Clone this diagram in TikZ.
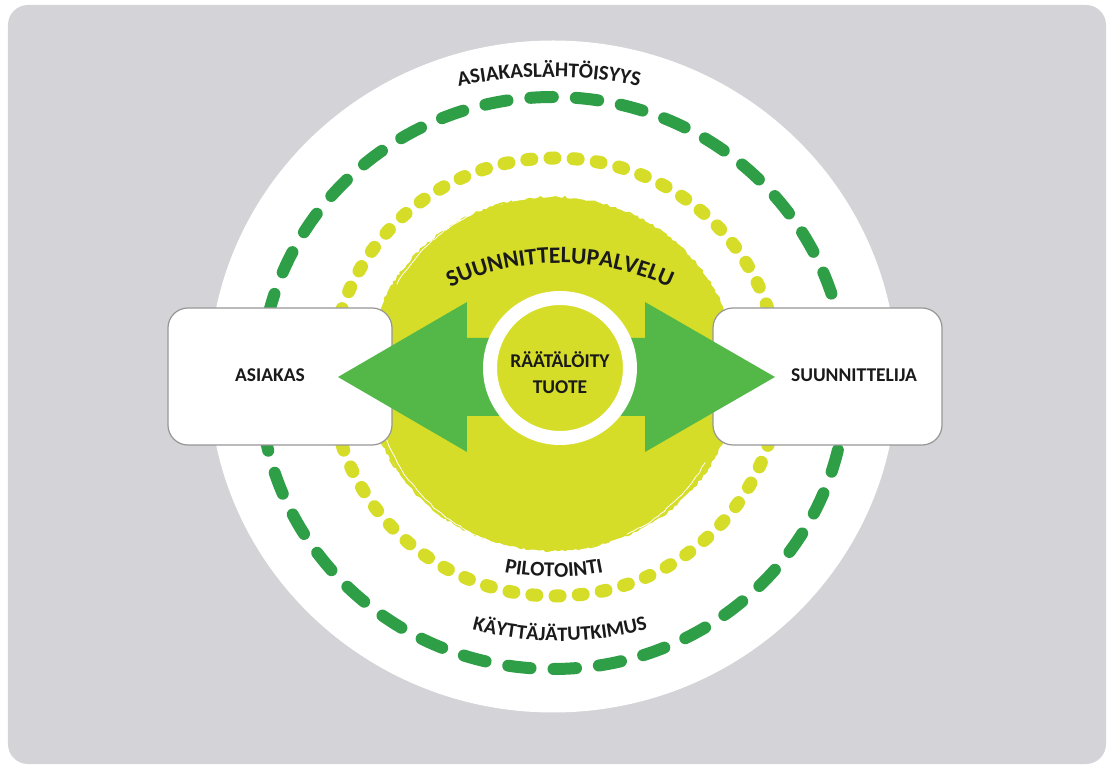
\documentclass[tikz,border=0pt]{standalone}
\usepackage{fontspec}
\setmainfont{Carlito}
\usetikzlibrary{shapes.geometric,decorations.text,decorations.pathmorphing,positioning}

\definecolor{panelgray}{RGB}{211,211,216}
\definecolor{darkgreen}{RGB}{46,158,71}
\definecolor{limegreen}{RGB}{213,221,41}
\definecolor{arrowgreen}{RGB}{84,184,72}
\definecolor{boxline}{RGB}{150,150,150}
\definecolor{ink}{RGB}{26,26,26}

\begin{document}
\begin{tikzpicture}[
	x=1pt, y=1pt,
	text=ink,
	ring/.style={
		ellipse,
		inner sep=0pt
	},
	box/.style={
		rectangle,
		rounded corners=20pt,
		draw=boxline, line width=1.2pt,
		fill=white,
		minimum height=137pt
	},
	lbl/.style={
		font=\bfseries\fontsize{19.5}{25.7}\selectfont,
		align=center
	},
	dashring/.style={
		draw=darkgreen, line width=12pt, line cap=round,
		dash pattern=on 22.5pt off 23pt
	},
	dotring/.style={
		draw=limegreen, line width=13pt, line cap=round,
		dash pattern=on 5pt off 18.2pt
	},
	brush/.style={
		draw=white, line width=0.8pt,
		decorate, decoration={random steps, segment length=4pt, amplitude=0.7pt}
	},
	curved/.style={
		decorate,
		decoration={text along path, text align=center}
	}
	]

	\pgfmathsetseed{11}
	\useasboundingbox (-553,-390) rectangle (555,377);
	\fill [panelgray, rounded corners=20pt] (-545,-387) rectangle (553,372);

	\node [ring, fill=white, minimum width=688pt, minimum height=672pt] (Outer) at (0,0.5) {};
	\draw [dashring] (0,-6) ellipse [x radius=293, y radius=286];
	\draw [dotring] (2,0) ellipse [x radius=224, y radius=219];
	\node [ring, fill=limegreen, minimum width=368pt, minimum height=352pt] (Service) at (-1,3) {};
	\draw [limegreen, line width=2pt, decorate, decoration={random steps, segment length=3pt, amplitude=1.2pt}]
		(Service.center) ellipse [x radius=184, y radius=176];
	\draw [brush] ([shift={(200:178)}]Service.center) arc [start angle=200, end angle=275, radius=178];
	\draw [brush] ([shift={(118:179)}]Service.center) arc [start angle=118, end angle=150, radius=179];
	\draw [brush] ([shift={(295:177)}]Service.center) arc [start angle=295, end angle=330, radius=177];

	\node [box, minimum width=224pt, left of=Service, node distance=272pt, yshift=-2.5pt] (Customer) {};
	\node [box, minimum width=229pt, right of=Service, node distance=275.5pt, yshift=-2.5pt] (Designer) {};

	\fill [arrowgreen] (-215,0) -- (-86,75) -- (-86,39) -- (92,39) -- (92,75) -- (222,0)
		-- (92,-75) -- (92,-39) -- (-86,-39) -- (-86,-75) -- cycle;

	\node [circle, draw=white, line width=14pt, fill=limegreen, minimum size=140pt, inner sep=0pt] (Product) at (7,9) {};

	\node [lbl, xshift=-10pt, yshift=1.5pt] (CustomerText) at (Customer) {ASIAKAS};
	\node [lbl, xshift=26.5pt, yshift=1.5pt] (DesignerText) at (Designer) {SUUNNITTELIJA};
	\node [lbl] (ProductText) at (7,4.6) {RÄÄTÄLÖITY\\TUOTE};

	\path [curved, decoration={text={|\color{ink}\bfseries\fontsize{21}{21}\selectfont|ASIAKASLÄHTÖISYYS}}]
		([shift={(110:450)}]-4,-150) arc [start angle=110, end angle=70, radius=450];
	\path [curved, decoration={text={|\color{ink}\bfseries\fontsize{23.5}{23.5}\selectfont|SUUNNITTELUPALVELU}}]
		([shift={(125:260)}]7,-146) arc [start angle=125, end angle=55, radius=260];
	\path [curved, decoration={text={|\color{ink}\bfseries\fontsize{21}{21}\selectfont|PILOTOINTI}}]
		([shift={(250:250)}]1,50) arc [start angle=250, end angle=290, radius=250];
	\path [curved, decoration={text={|\color{ink}\bfseries\fontsize{20.5}{20.5}\selectfont|KÄYTTÄJÄTUTKIMUS}}]
		([shift={(245:340)}]7,76) arc [start angle=245, end angle=295, radius=340];

\end{tikzpicture}
\end{document}
